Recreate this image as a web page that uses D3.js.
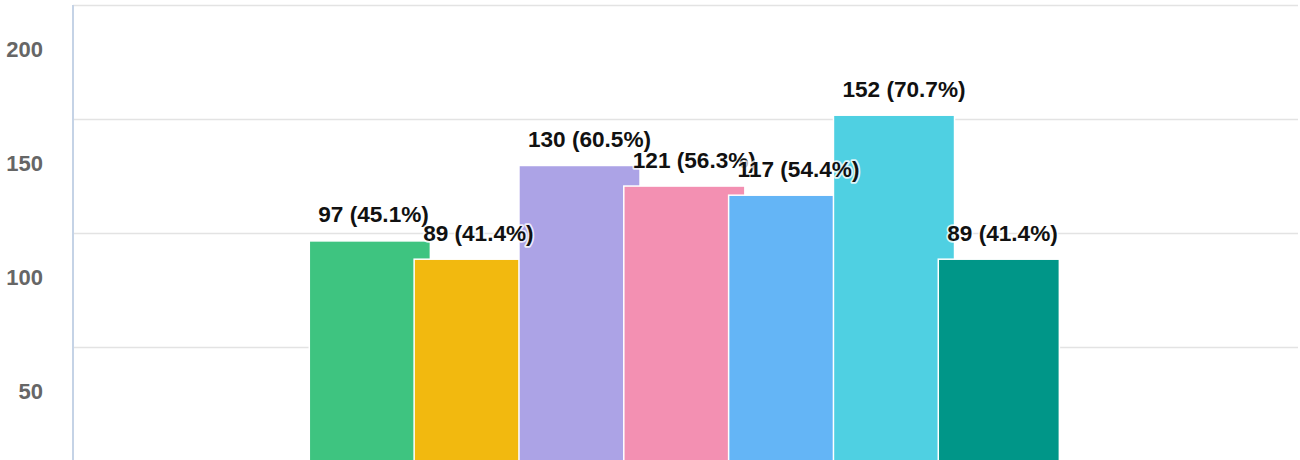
<!DOCTYPE html>
<html>
<head>
<meta charset="UTF-8">
<title>Bars</title>
<script src="https://d3js.org/d3.v7.min.js"></script>
<style>
  body { margin: 0; background: #fff; }
  svg { display: block; font-family: "Liberation Sans", Arial, Helvetica, sans-serif; }
</style>
</head>
<body>
<div class="canvas"></div>
<script>
  // data
  const categories = ['A', 'B', 'C', 'D', 'E', 'F', 'G']
  const values = [97, 89, 130, 121, 117, 152, 89]
  const colors = ['#3ec480', '#f2b90f', '#aca3e6', '#f390b2', '#64b5f6', '#4fd0e2', '#009688']
  const total = 215
  const yTicks = [50, 100, 150, 200]

  const W = 1300, H = 460

  const svg = d3.select('.canvas')
    .append('svg')
    .attr('width', W)
    .attr('height', H)

  const y = d3.scaleLinear()
    .domain([0, 200])
    .range([462.6, 5.5])

  const x = d3.scaleBand()
    .domain(categories)
    .range([309.3, 309.3 + 7 * 104.83])
    .padding(0)

  const barW = x.bandwidth() * 1.155

  // gridlines
  svg.append('g')
    .selectAll('line')
    .data(yTicks)
    .enter()
    .append('line')
    .attr('x1', 73)
    .attr('x2', 1298)
    .attr('y1', d => Math.round(y(d)) - 0.5)
    .attr('y2', d => Math.round(y(d)) - 0.5)
    .attr('stroke', '#e3e3e3')
    .attr('stroke-width', 1.3)

  // tick labels (sit below their gridline in the original)
  svg.append('g')
    .selectAll('text')
    .data(yTicks)
    .enter()
    .append('text')
    .attr('x', 43)
    .attr('y', d => y(d) + 51)
    .attr('text-anchor', 'end')
    .attr('font-size', 22)
    .attr('font-weight', 'bold')
    .attr('fill', '#666')
    .text(d => d)

  // axis line
  svg.append('line')
    .attr('x1', 73)
    .attr('x2', 73)
    .attr('y1', 5)
    .attr('y2', H)
    .attr('stroke', '#c5d3e6')
    .attr('stroke-width', 2)

  svg.append('g')
    .selectAll('rect')
    .data(values)
    .enter()
    .append('rect')
    .attr('x', (d, i) => x(categories[i]))
    .attr('y', d => y(d))
    .attr('width', barW)
    .attr('height', d => y(0) - y(d))
    .attr('fill', (d, i) => colors[i])
    .attr('stroke', '#fff')
    .attr('stroke-width', 1.5)

  svg.append('g')
    .selectAll('text')
    .data(values)
    .enter()
    .append('text')
    .attr('x', (d, i) => x(categories[i]) + 9)
    .attr('y', d => y(d) - 18.5)
    .attr('font-size', 22.6)
    .attr('font-weight', 'bold')
    .attr('fill', '#111')
    .attr('stroke', 'rgba(255,255,255,0.8)')
    .attr('stroke-width', 3.5)
    .attr('stroke-linejoin', 'round')
    .attr('paint-order', 'stroke')
    .text(d => d + ' (' + d3.format('.1f')(d / total * 100) + '%)')
</script>
</body>
</html>
